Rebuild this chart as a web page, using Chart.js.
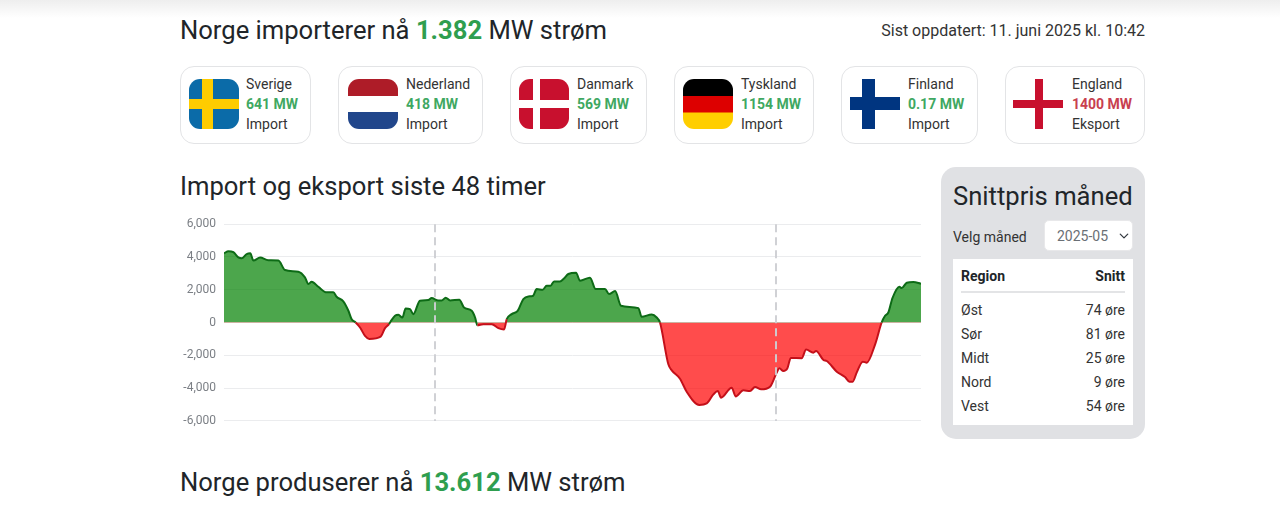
<!DOCTYPE html>
<html lang="no">
<head>
<meta charset="utf-8">
<title>Norge strøm</title>
<script src="https://cdn.jsdelivr.net/npm/chart.js@4"></script>
<style>
html,body{margin:0;padding:0;background:#fff;width:1280px;height:510px;overflow:hidden;font-family:Roboto,sans-serif;color:#212529}
#shade{position:absolute;left:0;top:0;width:1280px;height:18px;background:linear-gradient(#eeeeee,#ffffff)}
.abs{position:absolute;white-space:nowrap;line-height:1}
.h{font-size:25.6px;font-weight:400}
.g{color:#2f9e4f;font-weight:700}
.card{position:absolute;top:66px;height:76px;border:1px solid #e3e4e6;border-radius:14px;background:#fff}
.flag{position:absolute;top:79px;width:50px;height:50px}
.t{position:absolute;font-size:14px;line-height:1;white-space:nowrap;color:#333}
.t.v{font-weight:700;color:#3fa862}
.t.r{font-weight:700;color:#c8404f}
#panel{position:absolute;left:941px;top:167px;width:204px;height:272px;background:#e0e1e4;border-radius:15px}
#sel{position:absolute;left:1044px;top:220px;width:89px;height:31px;border:1px solid #e8e8ea;border-radius:5px;background:#fff url("data:image/svg+xml,%3Csvg xmlns='http://www.w3.org/2000/svg' viewBox='0 0 16 16'%3E%3Cpath fill='none' stroke='%23343a40' stroke-linecap='round' stroke-linejoin='round' stroke-width='2' d='m2 5 6 6 6-6'/%3E%3C/svg%3E") no-repeat right 3px center/10px 10px;-webkit-appearance:none;appearance:none;font:14px Roboto,sans-serif;color:#6a6f75;padding:0 0 0 12px;box-sizing:border-box}
#tbl{position:absolute;left:953px;top:259px;width:180px;height:166px;background:#fff}
#tblLine{position:absolute;left:961px;top:291px;width:164px;height:2px;background:#e3e4e6}
#chart{position:absolute;left:180px;top:209px}
</style>
</head>
<body>
<div id="shade"></div>
<div class="abs h" style="left:180px;top:18px">Norge importerer nå <span class="g">1.382</span> MW strøm</div>
<div class="abs" style="right:135px;top:23px;font-size:16px;color:#333">Sist oppdatert: 11. juni 2025 kl. 10:42</div>

<div class="card" style="left:180px;width:129px"></div>
<div class="card" style="left:338px;width:143px"></div>
<div class="card" style="left:510px;width:135px"></div>
<div class="card" style="left:674px;width:138px"></div>
<div class="card" style="left:841px;width:135px"></div>
<div class="card" style="left:1005px;width:138px"></div>

<svg class="flag" style="left:189px" viewBox="0 0 50 50"><defs><clipPath id="c1"><rect width="50" height="50" rx="11"/></clipPath></defs><g clip-path="url(#c1)"><rect width="50" height="50" fill="#0b6ba8"/><rect x="13" width="11" height="50" fill="#fecc00"/><rect y="20" width="50" height="10" fill="#fecc00"/></g></svg>
<svg class="flag" style="left:348px" viewBox="0 0 50 50"><defs><clipPath id="c2"><rect width="50" height="50" rx="11"/></clipPath></defs><g clip-path="url(#c2)"><rect width="50" height="17" fill="#ae1c28"/><rect y="33" width="50" height="17" fill="#21468b"/></g></svg>
<svg class="flag" style="left:519px" viewBox="0 0 50 50"><defs><clipPath id="c3"><rect width="50" height="50" rx="11"/></clipPath></defs><g clip-path="url(#c3)"><rect width="50" height="50" fill="#c8102e"/><rect x="14" width="7" height="50" fill="#fff"/><rect y="21" width="50" height="8" fill="#fff"/></g></svg>
<svg class="flag" style="left:683px" viewBox="0 0 50 50"><defs><clipPath id="c4"><rect width="50" height="50" rx="11"/></clipPath></defs><g clip-path="url(#c4)"><rect width="50" height="17" fill="#000"/><rect y="17" width="50" height="17" fill="#dd0000"/><rect y="33.5" width="50" height="16.5" fill="#ffce00"/></g></svg>
<svg class="flag" style="left:850px" viewBox="0 0 50 50"><rect x="12" width="13" height="50" fill="#003580"/><rect y="18" width="50" height="13" fill="#003580"/></svg>
<svg class="flag" style="left:1013px" viewBox="0 0 50 50"><rect x="22" width="8" height="50" fill="#c8102e"/><rect y="21" width="50" height="8" fill="#c8102e"/></svg>

<div class="t" style="left:246px;top:77px">Sverige</div><div class="t v" style="left:246px;top:97px">641 MW</div><div class="t" style="left:246px;top:117px">Import</div>
<div class="t" style="left:406px;top:77px">Nederland</div><div class="t v" style="left:406px;top:97px">418 MW</div><div class="t" style="left:406px;top:117px">Import</div>
<div class="t" style="left:577px;top:77px">Danmark</div><div class="t v" style="left:577px;top:97px">569 MW</div><div class="t" style="left:577px;top:117px">Import</div>
<div class="t" style="left:741px;top:77px">Tyskland</div><div class="t v" style="left:741px;top:97px">1154 MW</div><div class="t" style="left:741px;top:117px">Import</div>
<div class="t" style="left:908px;top:77px">Finland</div><div class="t v" style="left:908px;top:97px">0.17 MW</div><div class="t" style="left:908px;top:117px">Import</div>
<div class="t" style="left:1072px;top:77px">England</div><div class="t r" style="left:1072px;top:97px">1400 MW</div><div class="t" style="left:1072px;top:117px">Eksport</div>

<div class="abs h" style="left:180px;top:174px">Import og eksport siste 48 timer</div>
<canvas id="chart" width="741" height="227"></canvas>

<div id="panel"></div>
<div class="abs h" style="left:953px;top:184px">Snittpris måned</div>
<div class="abs" style="left:953px;top:230px;font-size:14px;color:#333">Velg måned</div>
<select id="sel"><option>2025-05</option></select>
<div id="tbl"></div>
<div id="tblLine"></div>
<div class="t" style="left:961px;top:269px;font-weight:700;color:#212529">Region</div>
<div class="t" style="right:155px;top:269px;font-weight:700;color:#212529">Snitt</div>
<div id="rows"></div>

<div class="abs h" style="left:180px;top:470px">Norge produserer nå <span class="g">13.612</span> MW strøm</div>

<script>
const hours = [0,0.31,0.66,1.01,1.24,1.6,1.85,2.07,2.54,3.12,3.83,4.30,5.23,5.70,5.94,6.17,6.64,7.23,7.70,7.93,8.40,8.76,8.99,9.27,9.58,9.93,10.23,11.03,11.34,11.62,11.76,12.04,12.28,12.56,12.79,13.10,13.33,13.80,14.39,14.62,15.09,15.33,15.61,15.92,16.57,16.90,17.44,17.68,17.84,18.26,18.85,19.32,19.72,19.91,20.26,20.68,21.08,21.43,21.74,22.02,22.44,22.72,23.0,23.24,23.66,
23.90,24.25,24.79,25.07,25.77,26.17,26.83,27.11,27.54,27.96,29.18,29.41,30.12,30.47,30.70,31.29,31.53,32.11,32.58,33.47,33.99,34.46,34.77,35.0,35.75,36.03,36.57,37.04,37.39,37.82,38.45,38.92,39.11,39.39,39.67,39.91,40.68,40.99,41.50,41.69,42.21,42.44,43.15,43.73,44.04,44.27,44.55,44.98,45.26,45.85,46.31,46.55,46.78,47.07,47.56,47.72,48.08,48.54,49.08];
const netMW = [4220,4350,4290,3980,3920,4180,4220,3780,3960,3800,3780,3200,3100,2755,2350,2490,2180,1840,1840,1570,1290,715,200,0,-305,-816,-1000,-857,-347,-100,100,410,470,300,857,816,510,1327,1367,1490,1347,1347,1510,1347,1388,918,714,306,-163,-102,-102,-347,-428,204,510,714,1429,1592,1612,2040,2000,2245,2245,2510,2510,
2650,2960,3040,2550,2735,2040,2040,1735,1918,1020,878,347,490,306,0,-2550,-2918,-3430,-4224,-5040,-4940,-4390,-4180,-4590,-3980,-4510,-4140,-4180,-3940,-4080,-3920,-3060,-2800,-2960,-2800,-2160,-2180,-1650,-1840,-1735,-2285,-2350,-3000,-3330,-3610,-3610,-3060,-2390,-2450,-1330,0,408,612,1490,2180,2100,2430,2470,2370];
const yTicks = [-6000,-4000,-2000,0,2000,4000,6000];
const midnightHours = [14.86,38.87];
const regions = ["Øst","Sør","Midt","Nord","Vest"];
const prices = [74,81,25,9,54];

const rows = document.getElementById('rows');
regions.forEach((r,i)=>{
  const top = 303 + i*24.1;
  rows.insertAdjacentHTML('beforeend',
    `<div class="t" style="left:961px;top:${top}px">${r}</div><div class="t" style="right:155px;top:${top}px">${prices[i]} øre</div>`);
});

new Chart(document.getElementById('chart'),{
  type:'line',
  data:{datasets:[{
    data:hours.map((h,i)=>({x:h,y:netMW[i]})),
    borderWidth:2,
    borderColor:'#0d6b16',
    pointRadius:0,
    cubicInterpolationMode:'monotone',
    fill:{target:'origin',above:'rgba(0,128,0,0.7)',below:'rgba(255,0,0,0.7)'},
    segment:{borderColor:c=>(c.p0.parsed.y+c.p1.parsed.y)<0?'#c4101a':'#0d6b16'}
  }]},
  options:{
    responsive:false,animation:false,
    layout:{padding:0},
    plugins:{legend:{display:false},tooltip:{enabled:false}},
    scales:{
      x:{type:'linear',min:0,max:49.08,
        afterBuildTicks:s=>{s.ticks=midnightHours.map(v=>({value:v}));},
        ticks:{display:false},
        border:{display:false,dash:[8,5]},
        grid:{z:1,color:'rgba(205,207,211,0.95)',lineWidth:2,drawTicks:false}
      },
      y:{min:-6000,max:6000,
        afterFit:s=>{s.width=44;},
        afterBuildTicks:s=>{s.ticks=yTicks.map(v=>({value:v}));},
        ticks:{color:'#7b7f85',font:{family:'Roboto',size:12},padding:8},
        border:{display:false},
        grid:{color:'#ebecee',lineWidth:1,drawTicks:false}
      }
    }
  }
});
</script>
</body>
</html>
